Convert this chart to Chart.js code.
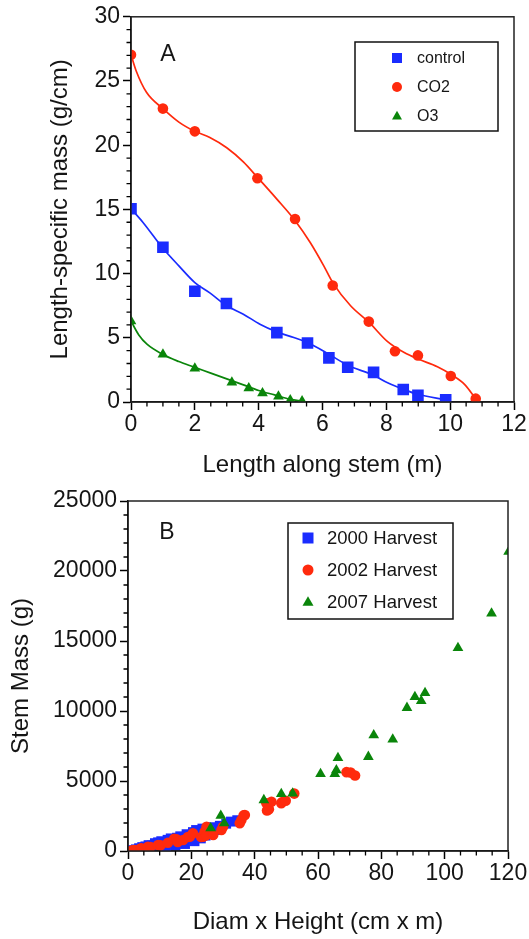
<!DOCTYPE html>
<html><head><meta charset="utf-8">
<script src="https://cdn.jsdelivr.net/npm/chart.js@4/dist/chart.umd.min.js"></script>
<style>
html,body{margin:0;padding:0;background:#fff;}
#wrapA{position:absolute;left:0;top:0;width:529px;height:490px;}
#wrapB{position:absolute;left:0;top:470px;width:529px;height:469px;}
</style></head><body>
<div id="wrapA"><canvas id="chartA" width="529" height="490"></canvas></div>
<div id="wrapB"><canvas id="chartB" width="529" height="469"></canvas></div>
<script>
// ---------- Panel A data (measured points) ----------
const lengthControl = [0, 1.0, 2.0, 2.99, 4.57, 5.53, 6.2, 6.79, 7.6, 8.53, 8.99, 9.86];
const massControl   = [15.05, 12.05, 8.63, 7.67, 5.4, 4.6, 3.44, 2.71, 2.31, 0.97, 0.53, 0.18];
const lengthCO2 = [0, 1.0, 2.0, 3.96, 5.14, 6.32, 7.45, 8.27, 8.99, 10.02, 10.8];
const massCO2   = [27.05, 22.85, 21.08, 17.43, 14.25, 9.07, 6.26, 3.95, 3.63, 2.03, 0.26];
const lengthO3 = [0, 1.0, 2.0, 3.16, 3.69, 4.12, 4.62, 4.99, 5.36];
const massO3   = [6.3, 3.7, 2.62, 1.53, 1.08, 0.69, 0.43, 0.14, 0.06];

// ---------- Panel A fitted curves ----------
const fitLengthControl = [0, 0.37, 1.0, 1.5, 2.0, 2.47, 3.0, 3.52, 4.04, 4.57, 5.1, 5.53, 6.2, 6.79, 7.6, 8.04, 8.53, 8.98, 9.86];
const fitMassControl   = [15.05, 14.0, 11.97, 10.6, 9.3, 8.5, 7.49, 6.84, 6.06, 5.46, 5.02, 4.63, 3.72, 2.86, 2.08, 1.5, 0.99, 0.6, 0.18];
const fitLengthCO2 = [0, 0.16, 0.49, 1.0, 1.5, 2.0, 2.47, 3.0, 3.52, 3.96, 4.57, 5.15, 5.62, 6.04, 6.32, 6.88, 7.46, 8.04, 8.56, 9.01, 9.6, 10.02, 10.45, 10.8];
const fitMassCO2   = [27.05, 25.8, 24.1, 22.85, 21.8, 21.08, 20.6, 19.8, 18.7, 17.5, 15.8, 14.1, 12.4, 10.6, 9.3, 7.5, 6.2, 4.7, 3.85, 3.33, 2.75, 2.16, 1.38, 0.26];
const fitLengthO3 = [0, 0.25, 0.5, 1.0, 1.5, 2.0, 2.5, 3.0, 3.5, 4.0, 4.5, 5.0, 5.36];
const fitMassO3   = [6.3, 5.2, 4.5, 3.7, 3.15, 2.7, 2.25, 1.8, 1.35, 0.9, 0.55, 0.2, 0.06];

// ---------- Panel B data ----------
const diam2000 = [1.5, 2.5, 3.5, 4.5, 5.5, 6.5, 7.5, 8.5, 9.5, 10.5, 11.5, 12, 12.5, 13.5, 14.5, 15, 15.5, 16.5, 17.5, 18, 18.5, 19.5, 20.5, 21, 21.5, 22.5, 23, 23.5, 24.5, 25.5, 26.5, 27.5, 29, 31, 32.5, 34.5];
const mass2000 = [60, 120, 200, 280, 330, 420, 400, 560, 620, 700, 600, 250, 800, 900, 700, 400, 950, 1050, 800, 500, 1200, 1000, 1350, 700, 1500, 1200, 900, 1600, 1100, 1450, 1700, 1500, 1800, 1950, 2100, 2200];
const diam2002 = [1.3, 2.1, 3.9, 4.2, 6.3, 7.1, 9.5, 10.3, 12.6, 14.6, 15.3, 15.7, 17.4, 18.9, 19.5, 20.5, 23.1, 23.7, 24.2, 24.7, 24.8, 26.9, 29.5, 30.0, 35.3, 35.8, 36.5, 36.9, 43.7, 43.9, 44.5, 45.3, 48.4, 48.7, 49.8, 52.5, 69.0, 70.3, 71.7];
const mass2002 = [48, 71, 166, 193, 307, 285, 428, 404, 593, 879, 836, 641, 786, 998, 1021, 1264, 998, 1020, 1380, 1117, 1736, 1143, 1500, 1736, 1980, 2214, 2543, 2571, 3407, 2899, 2979, 3521, 3407, 3493, 3593, 4100, 5632, 5600, 5395];
const diam2007 = [26.1, 29.3, 30.4, 42.9, 48.4, 52.0, 60.8, 65.3, 65.8, 66.3, 75.9, 77.6, 83.6, 88.1, 90.6, 92.6, 93.8, 104.2, 114.8, 120.2];
const mass2007 = [1630, 2520, 1990, 3640, 4070, 4110, 5500, 5500, 5780, 6650, 6730, 8270, 7970, 10230, 11000, 10720, 11290, 14510, 16970, 21380];

// ---------- tick settings ----------
const xTicksA = {min: 0, max: 12, step: 2, minor: 0.5};
const yTicksA = {min: 0, max: 30, step: 5, minor: 1};
const xTicksB = {min: 0, max: 120, step: 20, minor: 5};
const yTicksB = {min: 0, max: 25000, step: 5000, minor: 1000};

const FONT = '"Liberation Sans", Arial, Helvetica, sans-serif';
const BLUE = '#1a2cff';
const RED = '#ff2a0d';
const GREEN = '#0a850a';
const TXT = '#151515';

const toPts = (xs, ys) => xs.map((x, i) => ({x: x, y: ys[i]}));

function drawMarker(ctx, style, x, y, s, color) {
  ctx.fillStyle = color;
  ctx.beginPath();
  if (style === 'rect') {
    ctx.rect(x - s / 2, y - s / 2, s, s);
  } else if (style === 'circle') {
    ctx.arc(x, y, s / 2, 0, Math.PI * 2);
  } else {
    const h = s * 0.866;
    ctx.moveTo(x, y - h * 0.6);
    ctx.lineTo(x + s / 2, y + h * 0.4);
    ctx.lineTo(x - s / 2, y + h * 0.4);
    ctx.closePath();
  }
  ctx.fill();
}

const decorPlugin = {
  id: 'decor',
  afterDraw(chart, args, o) {
    const {ctx, chartArea: a} = chart;
    const xs = chart.scales.x, ys = chart.scales.y;
    ctx.save();
    ctx.strokeStyle = '#222';
    ctx.lineWidth = 1.5;
    ctx.strokeRect(a.left, a.top, a.right - a.left, a.bottom - a.top);
    ctx.strokeStyle = '#000';
    ctx.lineWidth = 1.3;
    ctx.beginPath();
    for (let v = o.xt.min; v <= o.xt.max + 1e-9; v += o.xt.minor) {
      if (Math.abs(v / o.xt.step - Math.round(v / o.xt.step)) < 1e-6) continue;
      const px = xs.getPixelForValue(v);
      ctx.moveTo(px, a.bottom); ctx.lineTo(px, a.bottom + 4.5);
    }
    for (let v = o.yt.min; v <= o.yt.max + 1e-9; v += o.yt.minor) {
      if (Math.abs(v / o.yt.step - Math.round(v / o.yt.step)) < 1e-6) continue;
      const py = ys.getPixelForValue(v);
      ctx.moveTo(a.left, py); ctx.lineTo(a.left - 4.5, py);
    }
    ctx.stroke();
    ctx.fillStyle = TXT;
    ctx.font = '23px ' + FONT;
    ctx.textAlign = 'center';
    ctx.textBaseline = 'middle';
    ctx.fillText(o.letter, o.letterX, o.letterY);
    const L = o.legend;
    ctx.strokeStyle = '#111';
    ctx.lineWidth = 1.5;
    ctx.strokeRect(L.x1, L.y1, L.x2 - L.x1, L.y2 - L.y1);
    ctx.font = L.font + 'px ' + FONT;
    ctx.textAlign = 'left';
    ctx.textBaseline = 'middle';
    chart.data.datasets.filter(ds => !ds.isFit).forEach((ds, i) => {
      const yy = L.rows[i];
      drawMarker(ctx, ds.pointStyle, L.markerX, yy, L.size, ds.pointBackgroundColor);
      ctx.fillStyle = TXT;
      ctx.fillText(ds.label, L.textX, yy + 1);
    });
    ctx.restore();
  }
};

function axis(t, title, isY, size, titlePad) {
  return {
    type: 'linear', min: t.min, max: t.max,
    afterFit: s => { if (isY) s.width = size; else s.height = size; },
    ticks: {
      stepSize: t.step, font: {family: FONT, size: 23}, color: TXT,
      padding: isY ? 3 : 1, maxRotation: 0, autoSkip: false,
      callback: v => String(v)
    },
    grid: {drawOnChartArea: false, drawTicks: true, tickLength: 8, tickColor: '#000', tickWidth: 1.5},
    border: {display: true, color: '#000', width: 1.5},
    title: {display: true, text: title, color: TXT, font: {family: FONT, size: 24}, padding: titlePad}
  };
}

function fitLine(xs, ys, color) {
  return {label: '', isFit: true, data: toPts(xs, ys), showLine: true, pointRadius: 0,
          borderColor: color, borderWidth: 1.7, tension: 0.4, cubicInterpolationMode: 'monotone', order: 5};
}
function markers(label, xs, ys, style, r, color, order) {
  return {label: label, data: toPts(xs, ys), pointStyle: style, pointRadius: r,
          pointBackgroundColor: color, pointBorderWidth: 0, showLine: false, order: order};
}

// ---------- Chart A ----------
new Chart(document.getElementById('chartA'), {
  type: 'scatter',
  data: {
    datasets: [
      markers('control', lengthControl, massControl, 'rect', 8.2, BLUE, 1),
      markers('CO2', lengthCO2, massCO2, 'circle', 5.3, RED, 1),
      markers('O3', lengthO3, massO3, 'triangle', 6.2, GREEN, 1),
      fitLine(fitLengthControl, fitMassControl, BLUE),
      fitLine(fitLengthCO2, fitMassCO2, RED),
      fitLine(fitLengthO3, fitMassO3, GREEN)
    ]
  },
  options: {
    responsive: false, animation: false, devicePixelRatio: 1,
    layout: {padding: {top: 16, right: 15, left: 0, bottom: 0}},
    plugins: {
      legend: {display: false}, tooltip: {enabled: false},
      decor: {
        xt: xTicksA, yt: yTicksA, letter: 'A', letterX: 168, letterY: 55,
        legend: {x1: 355, y1: 42, x2: 498, y2: 131, markerX: 397, textX: 417,
                 rows: [58, 87, 116], font: 16, size: 10}
      }
    },
    scales: {
      x: axis(xTicksA, 'Length along stem (m)', false, 88, {top: 0, bottom: 10}),
      y: axis(yTicksA, 'Length-specific mass (g/cm)', true, 131, {top: 46, bottom: 0})
    }
  },
  plugins: [decorPlugin]
});

// ---------- Chart B ----------
new Chart(document.getElementById('chartB'), {
  type: 'scatter',
  data: {
    datasets: [
      markers('2000 Harvest', diam2000, mass2000, 'rect', 7, BLUE, 3),
      markers('2002 Harvest', diam2002, mass2002, 'circle', 5.3, RED, 2),
      markers('2007 Harvest', diam2007, mass2007, 'triangle', 6.2, GREEN, 1)
    ]
  },
  options: {
    responsive: false, animation: false, devicePixelRatio: 1,
    layout: {padding: {top: 31, right: 21, left: 0, bottom: 0}},
    plugins: {
      legend: {display: false}, tooltip: {enabled: false},
      decor: {
        xt: xTicksB, yt: yTicksB, letter: 'B', letterX: 167, letterY: 63,
        legend: {x1: 288, y1: 53, x2: 453, y2: 149, markerX: 308, textX: 327,
                 rows: [68, 100, 132], font: 18.5, size: 11}
      }
    },
    scales: {
      x: axis(xTicksB, 'Diam x Height (cm x m)', false, 88, {top: 0, bottom: 2}),
      y: axis(yTicksB, 'Stem Mass (g)', true, 128, {top: 7, bottom: 0})
    }
  },
  plugins: [decorPlugin]
});
</script>
</body></html>
